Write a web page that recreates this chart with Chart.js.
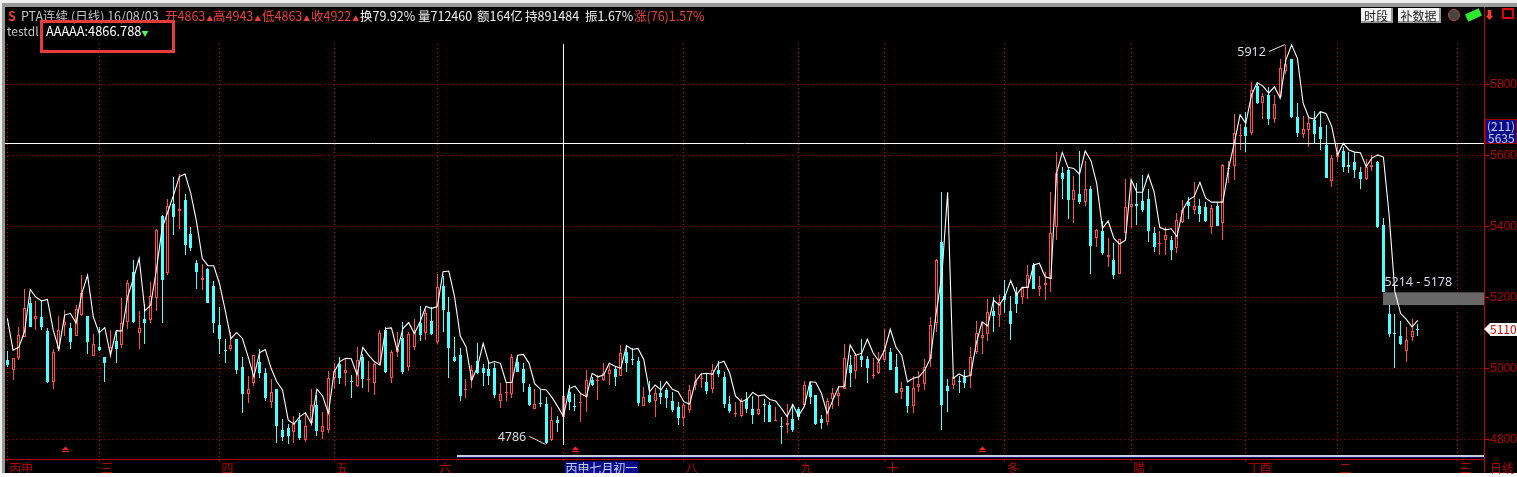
<!DOCTYPE html>
<html>
<head>
<meta charset="utf-8">
<script src="https://cdn.jsdelivr.net/npm/chart.js@4"></script>
<style>
  html, body { margin: 0; padding: 0; background: #fff; overflow: hidden; }
  #wrap { position: relative; width: 1517px; height: 477px; font: 12.5px "Noto Sans CJK SC", "Liberation Sans", sans-serif; }
  canvas { position: absolute; left: 0; top: 0; }
  .t { position: absolute; white-space: nowrap; line-height: 14px; }
  .g { color: #c4c4c4; } .r { color: #f03c3c; } .w { color: #f0f0f0; }
  .up { font-size: 7px; color: #f03c3c; vertical-align: 0; margin-left: 1px; }
  .box { position: absolute; box-sizing: border-box; }
  .btn { position: absolute; top: 8px; height: 15px; font-size: 12px; background: #f4f4f4; color: #222; text-align: center; line-height: 15px; border-right: 2px solid #999; border-bottom: 2px solid #999; box-sizing: border-box; }
</style>
</head>
<body>
<div id="wrap">
  <canvas id="chart" width="1517" height="473"></canvas>

  <div class="box" style="left:0;top:0;width:1517px;height:3px;background:#eee"></div>
  <div class="box" style="left:0;top:3px;width:1517px;height:4px;background:#9a9a9a"></div>
  <div class="box" style="left:0;top:0;width:2px;height:473px;background:#eee"></div>
  <div class="box" style="left:2px;top:3px;width:3px;height:470px;background:#9a9a9a"></div>
  <div class="box" style="left:1484px;top:7px;width:1px;height:466px;background:#c00000"></div>
  <div class="box" style="left:457px;top:455px;width:1027px;height:2px;background:#c8cfdc"></div>
  <div class="box" style="left:457px;top:457px;width:1027px;height:1px;background:#0a0a70"></div>

  <span class="t r" style="left:8px;top:9px;font-weight:bold">S</span>
  <span class="t g" style="left:21px;top:9px">PTA连续 (日线) 16/08/03</span>
  <span class="t r" style="left:165px;top:9px">开4863<span class="up">▲</span></span>
  <span class="t r" style="left:213px;top:9px">高4943<span class="up">▲</span></span>
  <span class="t r" style="left:262px;top:9px">低4863<span class="up">▲</span></span>
  <span class="t r" style="left:311px;top:9px">收4922<span class="up">▲</span></span>
  <span class="t w" style="left:360px;top:9px">换79.92%</span>
  <span class="t w" style="left:418px;top:9px">量712460</span>
  <span class="t w" style="left:477px;top:9px">额164亿</span>
  <span class="t w" style="left:525px;top:9px">持891484</span>
  <span class="t w" style="left:585px;top:9px">振1.67%</span>
  <span class="t r" style="left:634px;top:9px">涨(76)1.57%</span>
  <span class="t g" style="left:7px;top:24px;font-size:12px">testdl</span>
  <span class="t" style="left:46px;top:24px;color:#fff;font-size:12.8px">AAAAA:4866.788<span style="color:#4cff4c;font-size:7px">▼</span></span>
  <div class="box" style="left:40px;top:20px;width:135px;height:33px;border:3px solid #e93b3b"></div>

  <div class="btn" style="left:1361px;width:32px">时段</div>
  <div class="btn" style="left:1398px;width:43px">补数据</div>
  <div class="box" style="left:1448px;top:9px;width:12px;height:12px;border-radius:50%;background:#444;border:1px solid #c44"></div>
  <div class="box" style="left:1466px;top:11px;width:15px;height:8px;background:#2fe82f;transform:rotate(-25deg)"></div>
  <span class="t r" style="left:1484px;top:7px;font-size:11px">⬇</span>
  <div class="box" style="left:1502px;top:8px;width:12px;height:11px;border:2px solid #e00000"></div>

  <div class="box" style="left:1485px;top:119px;width:32px;height:25px;background:#0a0a8c;border:1px solid #a00000"></div>
  <span class="t" style="left:1487px;top:119px;color:#c8d2ee;font-size:12px">(211)</span>
  <span class="t" style="left:1488px;top:131px;color:#c8d2ee;font-size:12px">5635</span>
  <div class="box" style="left:1490px;top:323px;width:27px;height:13px;background:#fff"></div>
  <div class="box" style="left:1484px;top:323px;width:0;height:0;border-top:6.5px solid transparent;border-bottom:6.5px solid transparent;border-right:6px solid #fff"></div>
  <span class="t" style="left:1490px;top:322px;color:#e00000;font-size:12px">5110</span>
  <span class="t" style="left:1490px;top:461px;color:#b00000;font-size:12px">日线</span>
</div>

<script>
const opens = [
  5023,4996,5030,5089,5185,5140,5145,5105,4962,5054,
  5123,5113,5092,5150,5147,5036,5060,5032,5050,5077,
  5067,5131,5270,5100,5138,5136,5197,5430,5269,5462,
  5444,5474,5378,5297,5249,5280,5232,5122,5052,5054,
  5083,5004,4927,4960,5018,4987,4905,4942,4826,4832,
  4822,4854,4798,4845,4897,4822,4826,4972,5013,4988,
  4963,4950,5032,4968,4960,5014,5108,4974,5047,5086,
  5005,5061,5129,5100,5133,5075,5232,5159,5032,5038,
  4941,4967,5021,5001,4998,5001,4908,4931,4927,5019,
  4998,4947,4884,4903,4899,4798,4854,4863,4932,4893,
  4901,4920,4967,4964,4967,4984,4998,4979,5045,5026,
  5021,4895,4925,4909,4930,4939,4908,4890,4861,4883,
  4953,4971,4961,4941,4995,4976,4899,4870,4865,4913,
  4885,4872,4900,4897,4852,4838,4841,4857,4885,4897,
  4953,4925,4857,4850,4913,4922,4942,5009,4992,5035,
  5026,4978,4988,5022,5046,5004,4933,4950,4895,4946,
  4956,5025,5129,5356,4950,4953,4964,4977,4979,5047,
  5086,5098,5161,5151,5204,5161,5213,5201,5225,5291,
  5224,5236,5251,5399,5550,5559,5475,5490,5469,5504,
  5368,5387,5314,5305,5267,5382,5455,5463,5471,5477,
  5381,5350,5362,5362,5340,5411,5468,5447,5457,5454,
  5399,5457,5410,5562,5570,5653,5681,5664,5795,5748,
  5770,5703,5763,5838,5871,5708,5661,5672,5700,5680,
  5630,5528,5596,5612,5573,5582,5553,5533,5567,5581,
  5404,5153,5099,5091,5050,5089,5111
];
const highs = [
  5049,5030,5117,5223,5200,5190,5190,5113,5054,5148,
  5164,5127,5177,5263,5147,5097,5116,5032,5108,5103,
  5199,5250,5305,5161,5181,5242,5392,5432,5476,5538,
  5547,5491,5399,5305,5294,5282,5246,5173,5083,5102,
  5083,5031,4978,5037,5054,5000,4969,4942,4856,4843,
  4866,4875,4878,4942,4925,4876,4992,5014,5032,5026,
  4981,5060,5040,5021,5017,5108,5115,5051,5102,5131,
  5103,5138,5176,5174,5172,5266,5261,5200,5087,5057,
  4969,5009,5071,5012,5019,5016,4959,4962,5039,5033,
  5014,4956,4942,4939,4918,4890,4866,4943,4953,4928,
  4927,4994,4975,4981,5016,5009,5003,5066,5066,5056,
  5031,4948,4965,4945,4964,4944,4933,4906,4903,4952,
  4984,4986,4984,5012,5021,4989,4922,4904,4915,4933,
  4922,4922,4914,4906,4891,4862,4899,4900,4892,4964,
  4962,4925,4869,4915,4944,4950,5069,5038,5044,5083,
  5035,5028,5047,5111,5056,5039,4962,4950,4978,4992,
  5026,5144,5308,5497,4969,4975,4979,4994,5059,5133,
  5127,5194,5202,5206,5249,5204,5230,5226,5290,5298,
  5261,5272,5496,5608,5568,5566,5543,5612,5584,5514,
  5392,5415,5367,5354,5363,5533,5524,5521,5545,5504,
  5398,5388,5399,5372,5437,5473,5482,5524,5476,5468,
  5460,5468,5575,5583,5716,5688,5722,5806,5805,5775,
  5793,5770,5871,5912,5871,5746,5711,5706,5725,5721,
  5685,5601,5634,5622,5609,5608,5566,5590,5600,5583,
  5423,5178,5153,5133,5116,5139,5125
];
const lows = [
  5003,4967,5023,5087,5117,5109,5109,4959,4943,5050,
  5091,5054,5092,5146,5040,5036,5050,4962,5028,5016,
  5058,5110,5129,5054,5069,5129,5161,5129,5264,5376,
  5392,5319,5331,5222,5221,5183,5100,5040,5016,5050,
  4984,4875,4903,4950,4974,4909,4889,4791,4795,4788,
  4789,4797,4793,4838,4809,4801,4819,4942,4955,4950,
  4917,4947,4945,4933,4925,5009,4987,4959,5032,4984,
  4992,5052,5077,5080,5095,5069,5103,4974,5019,4909,
  4917,4945,4984,4951,4952,4916,4888,4908,4915,4989,
  4934,4894,4884,4891,4786,4795,4822,4863,4883,4881,
  4849,4877,4951,4911,4964,4953,4951,4977,4989,5009,
  4894,4895,4903,4864,4899,4889,4878,4840,4838,4875,
  4939,4945,4928,4930,4975,4889,4875,4862,4864,4874,
  4843,4869,4850,4849,4852,4788,4819,4821,4854,4894,
  4900,4840,4830,4841,4885,4894,4941,4947,4970,5003,
  4959,4970,4985,5019,4994,4930,4914,4875,4875,4932,
  4939,5003,5102,4826,4878,4942,4930,4944,4944,5040,
  5040,5078,5102,5116,5156,5080,5156,5181,5196,5222,
  5204,5192,5215,5362,5476,5421,5408,5463,5458,5266,
  5343,5319,5284,5252,5267,5382,5394,5405,5439,5356,
  5328,5319,5319,5305,5325,5408,5421,5436,5412,5412,
  5378,5401,5362,5523,5531,5615,5608,5658,5744,5702,
  5686,5692,5760,5828,5706,5652,5650,5624,5634,5616,
  5537,5511,5582,5553,5549,5536,5506,5530,5557,5395,
  5214,5089,5001,5066,5019,5077,5091
];
const closes = [
  5008,5028,5093,5169,5117,5147,5117,4961,5045,5108,
  5130,5074,5166,5212,5074,5069,5051,5015,5059,5054,
  5127,5240,5131,5113,5128,5203,5390,5249,5457,5427,
  5449,5347,5338,5272,5254,5185,5128,5083,5050,5066,
  4995,4928,4941,5037,4986,4916,4933,4838,4807,4810,
  4843,4803,4838,4897,4823,4838,4973,4993,4973,4995,
  4961,5023,4970,4970,5012,5099,4989,5046,5054,4990,
  5097,5106,5094,5157,5097,5228,5164,5058,5021,4923,
  4943,4995,4986,4988,4979,4925,4927,4933,5032,4991,
  4960,4897,4899,4901,4790,4854,4846,4922,4906,4891,
  4904,4967,4953,4966,4986,4994,4976,5042,5016,5022,
  4901,4918,4904,4930,4919,4915,4882,4860,4897,4938,
  4963,4973,4937,4995,4984,4900,4880,4873,4908,4886,
  4869,4885,4897,4850,4854,4836,4846,4825,4864,4953,
  4920,4842,4845,4908,4930,4930,5028,4986,5038,5023,
  5001,4981,5019,5052,4995,4931,4944,4895,4945,4955,
  5005,5121,5305,4897,4936,4975,4961,4959,5031,5099,
  5093,5158,5148,5187,5192,5125,5182,5226,5262,5224,
  5232,5240,5380,5549,5534,5474,5501,5469,5504,5345,
  5390,5324,5319,5263,5363,5454,5462,5458,5446,5387,
  5342,5353,5375,5333,5418,5447,5457,5457,5436,5415,
  5451,5402,5572,5564,5662,5656,5653,5783,5746,5766,
  5702,5744,5846,5857,5707,5663,5674,5691,5660,5646,
  5537,5593,5606,5567,5567,5559,5533,5568,5573,5398,
  5216,5097,5096,5068,5080,5105,5110
];
const testdl = [
  5141,5051,5059,5103,5222,5200,5190,5194,5108,5053,
  5150,5155,5127,5211,5262,5145,5100,5115,5037,5106,
  5105,5202,5253,5310,5162,5178,5277,5394,5441,5488,
  5540,5547,5493,5413,5310,5289,5289,5239,5164,5084,
  5101,5084,5033,4976,5044,5053,5000,4962,4939,4854,
  4843,4864,4875,4845,4941,4922,4873,4990,5019,5028,
  5027,4981,5059,5037,5019,5009,5112,5114,5050,5112,
  5129,5098,5131,5174,5169,5174,5272,5274,5202,5091,
  5061,4967,5004,5070,5014,5019,5014,4960,4960,5037,
  5039,5014,4956,4941,4939,4918,4892,4864,4943,4950,
  4929,4920,4986,4976,4981,5014,5006,5000,5064,5053,
  5056,5025,4934,4953,4939,4962,4941,4934,4906,4899,
  4962,4984,4986,4983,5014,5020,4986,4922,4906,4912,
  4932,4922,4925,4912,4908,4887,4864,4898,4866,4892,
  4962,4961,4929,4873,4911,4948,4948,5066,5037,5042,
  5082,5044,5020,5051,5110,5059,5037,4962,4972,4976,
  4995,5028,5155,5263,5496,4972,4984,4976,4980,5070,
  5131,5119,5192,5178,5202,5247,5207,5228,5228,5291,
  5296,5258,5253,5549,5608,5566,5563,5547,5612,5585,
  5521,5394,5415,5366,5350,5361,5532,5496,5496,5545,
  5498,5397,5390,5393,5371,5446,5474,5484,5524,5479,
  5468,5468,5468,5563,5634,5714,5690,5770,5805,5795,
  5775,5793,5761,5869,5911,5873,5747,5706,5702,5723,
  5718,5681,5601,5634,5615,5609,5607,5568,5592,5601,
  5595,5432,5216,5155,5138,5117,5135
];
const monthTicks = [0,16,37,57,75,97,118,138,153,174,196,216,232,253];
const monthNames = ["丙申","三","四","五","六","丙申七月初一","八","九","十","冬","腊","丁酉","二","三"];
const priceTicks = [4800,5000,5200,5400,5600,5800];
const cursorIndex = 97;
const cursorPrice = 5633.2;
const gapTop = 5214;
const gapBottom = 5178;
const gapStart = 240;
const signalBars = [10,99,170];

const RED = "#ff4d4d";
const CYAN = "#4dffff";
const AXIS = "#b80000";
const GRID = "#d40000";
const X_MIN = -0.5;
const X_MAX = 257.6;
const Y_MIN = 4743.7;
const Y_MAX = 5913.5;

const labels = opens.map((o, i) => i);
const isUp = opens.map((o, i) => closes[i] >= o);
const candleColors = isUp.map((up) => (up ? RED : CYAN));

// 让K线落在整像素上，十字星至少一个像素高
const klinePlugin = {
  id: "kline",
  beforeDraw(chart) {
    const ctx = chart.ctx;
    ctx.save();
    ctx.fillStyle = "#000";
    ctx.fillRect(0, 0, chart.width, chart.height);
    ctx.restore();
  },
  beforeDatasetsDraw(chart) {
    [0, 1].forEach((d) => {
      chart.getDatasetMeta(d).data.forEach((bar) => {
        bar.x = Math.floor(bar.x) + 0.5;
        bar.y = Math.round(bar.y);
        bar.base = Math.round(bar.base);
        if (Math.abs(bar.base - bar.y) < 1) bar.base = bar.y + 1;
      });
    });
    const { ctx, scales, chartArea } = chart;
    const gapLeft = Math.round(scales.x.getPixelForValue(gapStart));
    const y1 = scales.y.getPixelForValue(gapTop);
    const y2 = scales.y.getPixelForValue(gapBottom);
    ctx.save();
    ctx.fillStyle = "#686868";
    ctx.fillRect(gapLeft, y1, chartArea.right - gapLeft, y2 - y1);
    ctx.restore();
  },
  afterDatasetsDraw(chart) {
    const { ctx, scales } = chart;
    const xs = scales.x, ys = scales.y;
    ctx.save();
    ctx.font = '12.5px "Noto Sans", "Liberation Sans", sans-serif';
    ctx.fillStyle = "#d4dbe2";
    ctx.textBaseline = "middle";

    // 区间最高价
    const hiX = xs.getPixelForValue(223);
    const hiY = ys.getPixelForValue(5912);
    ctx.textAlign = "right";
    ctx.fillText("5912", hiX - 20, hiY + 8);
    // 区间最低价
    const loX = xs.getPixelForValue(94);
    const loY = ys.getPixelForValue(4786);
    ctx.fillText("4786", loX - 20, loY - 7);

    ctx.strokeStyle = "#e8e8e8";
    ctx.lineWidth = 1;
    ctx.beginPath();
    ctx.moveTo(hiX - 17, hiY + 7);
    ctx.lineTo(hiX - 1, hiY);
    ctx.moveTo(loX - 17, loY - 8);
    ctx.lineTo(loX - 1, loY);
    ctx.stroke();

    // 缺口
    ctx.textAlign = "left";
    const gapX = xs.getPixelForValue(gapStart);
    ctx.fillText(gapTop + " - " + gapBottom, gapX + 1, ys.getPixelForValue(gapTop) - 10);

    // 底部信号
    ctx.fillStyle = "#ff2020";
    signalBars.forEach((i) => {
      const x = Math.round(xs.getPixelForValue(i));
      ctx.beginPath();
      ctx.moveTo(x - 3, 450);
      ctx.lineTo(x + 4, 450);
      ctx.lineTo(x + 0.5, 446.5);
      ctx.closePath();
      ctx.fill();
      ctx.fillRect(x - 3, 451, 7, 1);
    });
    ctx.restore();
  },
};

new Chart(document.getElementById("chart"), {
  type: "bar",
  plugins: [klinePlugin],
  data: {
    labels: labels,
    datasets: [
      {
        label: "body",
        data: opens.map((o, i) => [o, closes[i]]),
        grouped: false,
        order: 2,
        backgroundColor: isUp.map((up) => (up ? "#000" : CYAN)),
        borderColor: candleColors,
        borderWidth: 1,
        borderSkipped: false,
        inflateAmount: 0,
        barPercentage: 1,
        categoryPercentage: 1,
        maxBarThickness: 3,
      },
      {
        label: "wick",
        data: lows.map((l, i) => [l, highs[i]]),
        grouped: false,
        order: 3,
        backgroundColor: candleColors,
        inflateAmount: 0,
        barPercentage: 1,
        categoryPercentage: 1,
        maxBarThickness: 1,
      },
      {
        type: "line",
        label: "testdl",
        data: testdl,
        order: 1,
        borderColor: "#fff",
        borderWidth: 1.1,
        pointRadius: 0,
        tension: 0,
      },
      {
        type: "line",
        label: "cursorH",
        data: [{ x: X_MIN, y: cursorPrice }, { x: X_MAX, y: cursorPrice }],
        order: 0,
        borderColor: "#fff",
        borderWidth: 1,
        pointRadius: 0,
      },
      {
        type: "line",
        label: "cursorV",
        data: [{ x: cursorIndex, y: Y_MIN + 40 }, { x: cursorIndex, y: Y_MAX }],
        order: 0,
        borderColor: "#fff",
        borderWidth: 1,
        pointRadius: 0,
      },
    ],
  },
  options: {
    responsive: false,
    animation: false,
    events: [],
    layout: { padding: { left: 4.43, top: 44, right: 0, bottom: 0 } },
    plugins: { legend: { display: false }, tooltip: { enabled: false } },
    scales: {
      x: {
        type: "linear",
        offset: false,
        min: X_MIN,
        max: X_MAX,
        afterBuildTicks(scale) {
          scale.ticks = monthTicks.map((v) => ({ value: v }));
        },
        afterFit(scale) {
          scale.height = 13.7;
        },
        border: { color: AXIS, dash: [1, 3] },
        grid: { offset: false, color: GRID, lineWidth: 1, tickLength: 2 },
        ticks: {
          autoSkip: false,
          maxRotation: 0,
          align: "start",
          padding: 0,
          labelOffset: 2,
          font: { family: '"Noto Sans CJK SC"', size: 12 },
          color: (ctx) => (ctx.index === 5 ? "#c8d2ee" : AXIS),
          showLabelBackdrop: (ctx) => ctx.index === 5,
          backdropColor: "#0a0a8c",
          backdropPadding: { left: 1, right: 1, top: 0, bottom: 2 },
          callback: (v) => monthNames[monthTicks.indexOf(v)],
        },
      },
      y: {
        position: "right",
        min: Y_MIN,
        max: Y_MAX,
        afterBuildTicks(scale) {
          scale.ticks = priceTicks.map((v) => ({ value: v }));
        },
        afterFit(scale) {
          scale.width = 32.7;
        },
        border: { color: AXIS, dash: [1, 3] },
        grid: { color: GRID, lineWidth: 1, tickLength: 5 },
        ticks: {
          padding: 1,
          font: { family: '"Liberation Sans"', size: 12 },
          color: AXIS,
          callback: (v) => String(v),
        },
      },
    },
  },
});
</script>
</body>
</html>
